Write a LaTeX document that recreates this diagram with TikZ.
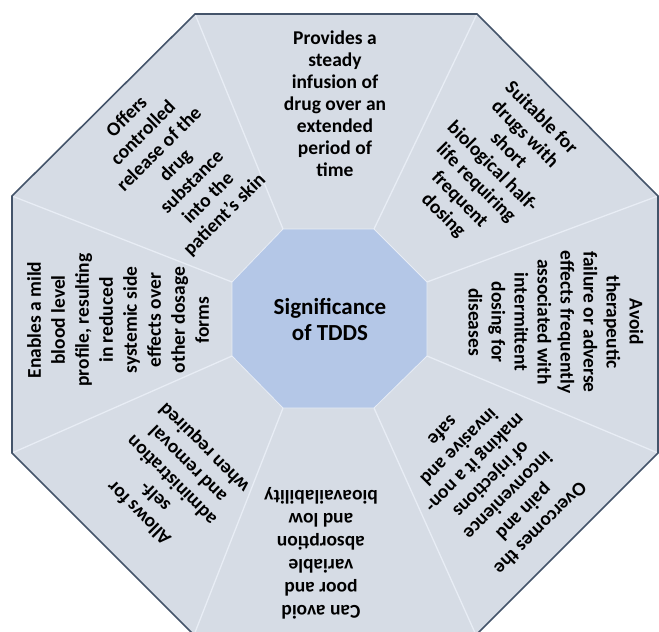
\documentclass[tikz,border=0pt]{standalone}
\usepackage{fontspec}
\setmainfont{Carlito}
\usepackage{tikz}

\definecolor{petal}{HTML}{D6DCE5}
\definecolor{rim}{HTML}{44546A}
\definecolor{hubfill}{HTML}{B4C7E7}
\definecolor{seam}{HTML}{E8EDF5}

\begin{document}
\begin{tikzpicture}[x=1pt, y=-1pt,
    note/.style={align=center, inner sep=0pt, font=\bfseries\fontsize{19.5}{23}\selectfont},
    hub/.style={align=center, inner sep=0pt, font=\bfseries\fontsize{23}{26}\selectfont},
    seam/.style={draw=seam, line width=1.3pt}
  ]
  \clip (0,0) rectangle (659,632);
  % outer and inner corners, clockwise from the top left
  \foreach \k/\ox/\oy/\ix/\iy in {1/195/14/283/229, 2/477/14/374/229,
      3/658/196/427/282, 4/658/453/427/356, 5/476/635/374/408,
      6/194/635/283/408, 7/12/453/232/356, 8/12/196/232/282}{
    \coordinate (o\k) at (\ox,\oy);
    \coordinate (i\k) at (\ix,\iy);
  }
  \fill[petal] (o1) -- (o2) -- (o3) -- (o4) -- (o5) -- (o6) -- (o7) -- (o8) -- cycle;
  \foreach \k in {1,...,8}
    \draw[seam] (i\k) -- (o\k);
  \draw[rim, line width=1.6pt] (o1) -- (o2) -- (o3) -- (o4) -- (o5) -- (o6) -- (o7) -- (o8) -- cycle;
  \filldraw[fill=hubfill, draw=seam, line width=0.8pt]
    (i1) -- (i2) -- (i3) -- (i4) -- (i5) -- (i6) -- (i7) -- (i8) -- cycle;
  \node[hub] (hub) at (330,319) {Significance\\of TDDS};

  \node[note, font=\bfseries\fontsize{19.5}{22}\selectfont] (infusion) at (335,104) {Provides a\\steady\\infusion of\\drug over an\\extended\\period of\\time};
  \node[note, rotate=-45] (halflife) at (492,167) {Suitable for\\drugs with\\short\\biological half-\\life requiring\\frequent\\dosing};
  \node[note, rotate=-90] (failure) at (556,322) {Avoid\\therapeutic\\failure or adverse\\effects frequently\\associated with\\intermittent\\dosing for\\diseases};
  \node[note, rotate=-135] (injection) at (492,480) {Overcomes the\\pain and\\inconvenience\\of injections\\making it a non-\\invasive and\\safe};
  \node[note, rotate=180] (absorption) at (321,553) {Can avoid\\poor and\\variable\\absorption\\and low\\bioavailability};
  \node[note, rotate=135] (selfuse) at (172,480) {Allows for\\self-\\administration\\and removal\\when required};
  \node[note, rotate=90, font=\bfseries\fontsize{19.5}{24}\selectfont] (bloodlevel) at (118,320) {Enables a mild\\blood level\\profile, resulting\\in reduced\\systemic side\\effects over\\other dosage\\forms};
  \node[note, rotate=45] (release) at (176,166) {Offers\\controlled\\release of the\\drug\\substance\\into the\\patient’s skin};
\end{tikzpicture}
\end{document}
